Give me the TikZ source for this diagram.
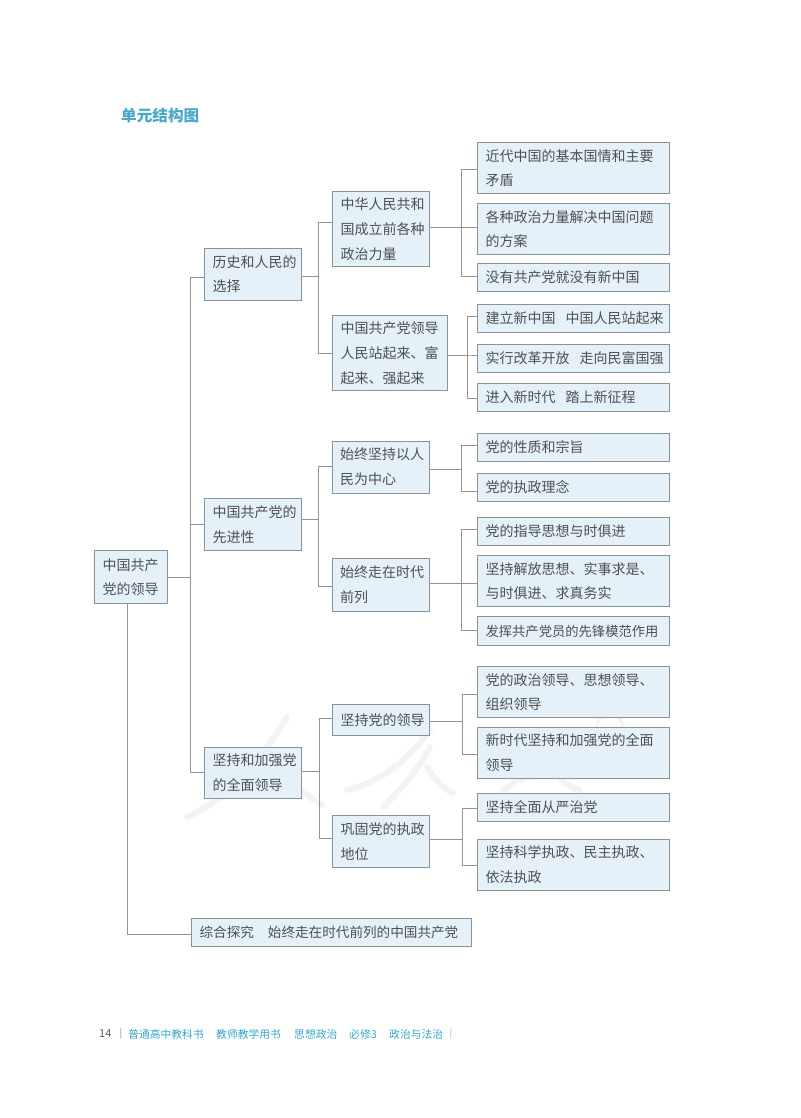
\documentclass[tikz,border=0pt]{standalone}
\usepackage{fontspec}
\setmainfont{Noto Sans CJK SC}
\definecolor{boxfill}{HTML}{E4F1F8}
\definecolor{boxline}{HTML}{8C9296}
\definecolor{linkgray}{HTML}{939393}
\definecolor{bodytext}{HTML}{505050}
\definecolor{titleblue}{HTML}{4AA8C8}
\definecolor{footblue}{HTML}{35A5C8}
\definecolor{markgray}{HTML}{F3F3F3}
\tikzset{
    box/.style={draw=boxline, line width=1.1pt, fill=boxfill, anchor=north west, inner sep=0pt, inner xsep=8pt,
        align=left, text=bodytext, font=\fontsize{14}{24.7}\selectfont},
    link/.style={draw=linkgray, line width=1pt},
    foot/.style={anchor=west, inner sep=0pt, text=footblue, font=\fontsize{10.8}{12}\selectfont},
    markstroke/.style={draw=markgray, line width=6pt, line cap=round},
}
% one box: name, left, top, right, bottom, text
\newcommand{\treebox}[6]{
    \node[box, minimum width={#4-#2}, minimum height={#5-#3}, text width={#4-#2-16}] (#1) at (#2,#3) {#6};
}
\begin{document}
\begin{tikzpicture}[x=1pt, y=-1pt]
    \useasboundingbox (0,0) rectangle (800,1118);

    \node[anchor=west, inner sep=0pt, text=titleblue, font=\fontsize{15.6}{18}\selectfont\bfseries] (title) at (121,115.5) {单元结构图};

    % faint watermark strokes
    \draw[markstroke] (287,717) .. controls (255,770) and (225,800) .. (187,817);
    \draw[markstroke] (275,760) .. controls (290,780) and (305,795) .. (322,805);
    \draw[markstroke] (430,730) .. controls (400,770) and (370,785) .. (347,790);
    \draw[markstroke] (430,747) .. controls (415,775) and (400,790) .. (383,807);
    \draw[markstroke] (427,767) .. controls (435,780) and (445,790) .. (453,793);
    \draw[markstroke] (537,747) .. controls (525,770) and (515,785) .. (503,790);
    \draw[markstroke] (570,747) .. controls (555,765) and (535,775) .. (520,780);
    \draw[markstroke] (553,770) .. controls (560,780) and (570,788) .. (580,790);
    \draw[draw=markgray, line width=3pt] (610,727) circle[radius=13];

    % root and first level
    \treebox{root}{94}{550}{167}{603}{中国共产\\党的领导}
    \treebox{hist}{204}{247.5}{301}{299.5}{历史和人民的\\选择}
    \treebox{adv}{204}{498}{301}{550}{中国共产党的\\先进性}
    \treebox{lead}{204}{746.5}{301}{798}{坚持和加强党\\的全面领导}
    \treebox{expl}{191}{918}{471}{946}{{\fontsize{13.6}{24.7}\selectfont 综合探究\hspace{14pt}始终走在时代前列的中国共产党}}

    % second level
    \treebox{forces}{332}{191}{429}{266}{中华人民共和\\国成立前各种\\政治力量}
    \treebox{rise}{332}{315}{447}{390}{中国共产党领导\\人民站起来、富\\起来、强起来}
    \treebox{people}{331.5}{440.5}{428.5}{492.5}{始终坚持以人\\民为中心}
    \treebox{times}{331.5}{558}{428.5}{610.5}{始终走在时代\\前列}
    \treebox{party}{332}{704}{429}{734.5}{坚持党的领导}
    \treebox{rule}{332}{815}{429}{867}{巩固党的执政\\地位}

    % third level
    \treebox{a}{477}{142}{669}{193}{近代中国的基本国情和主要\\矛盾}
    \treebox{b}{477}{203}{669}{254}{各种政治力量解决中国问题\\的方案}
    \treebox{c}{477}{263}{669}{291}{没有共产党就没有新中国}
    \treebox{d}{477}{304}{669}{332}{\mbox{建立新中国\hspace{10pt}中国人民站起来}}
    \treebox{e}{477}{344}{669}{372}{\mbox{实行改革开放\hspace{10pt}走向民富国强}}
    \treebox{f}{477}{383}{669}{411}{\mbox{进入新时代\hspace{10pt}踏上新征程}}
    \treebox{g}{477}{433}{669}{460.5}{党的性质和宗旨}
    \treebox{h}{477}{472.5}{669}{500.5}{党的执政理念}
    \treebox{i}{477}{517}{669}{544.5}{党的指导思想与时俱进}
    \treebox{j}{477}{555}{669}{606}{坚持解放思想、实事求是、\\与时俱进、求真务实}
    \treebox{k}{477}{616}{669}{645}{{\fontsize{13.3}{24.7}\selectfont 发挥共产党员的先锋模范作用}}
    \treebox{l}{477}{666}{669}{717}{党的政治领导、思想领导、\\组织领导}
    \treebox{m}{477}{726.5}{669}{777.5}{新时代坚持和加强党的全面\\领导}
    \treebox{n}{477}{793}{669}{820.5}{坚持全面从严治党}
    \treebox{o}{477}{838.5}{669}{889.5}{坚持科学执政、民主执政、\\依法执政}

    % connectors: from, its y, x of the spine, to, its y
    \foreach \from/\ya/\spine/\to/\yb in {root/577.7/190/hist/277, root/577.7/190/adv/524, root/577.7/190/lead/772,
        hist/276.7/318/forces/222.7, hist/276.7/318/rise/353.3,
        adv/519/318/people/466.7, adv/519/318/times/586.7,
        lead/771/319/party/718, lead/771/319/rule/838,
        forces/227.7/461/a/169.3, forces/227.7/461/b/227.7, forces/227.7/461/c/276.7,
        rise/355/467/d/316.7, rise/355/467/e/355, rise/355/467/f/398.3,
        people/469.3/461/g/445, people/469.3/461/h/491.7,
        times/583.7/461/i/529, times/583.7/461/j/583.7, times/583.7/461/k/630.7,
        party/721/462/l/694, party/721/462/m/754,
        rule/839/462/n/808, rule/839/462/o/865}
        \draw[link] (\from.east |- 0,\ya) -- (\spine,\ya) -- (\spine,\yb) -- (\to.west |- 0,\yb);
    \coordinate (rootdown) at (127,603);
    \draw[link] (rootdown) -- (127,934) -- (expl.west |- 0,934);

    % footer
    \node[anchor=west, inner sep=0pt, text=black!65, font=\fontsize{11}{12}\selectfont] (page) at (99,1034) {14};
    \node[foot] (f1) at (128,1034) {普通高中教科书};
    \node[foot] (f2) at (216,1034) {教师教学用书};
    \node[foot] (f3) at (294,1034) {思想政治};
    \node[foot] (f4) at (349,1034) {必修3};
    \node[foot] (f5) at (389,1034) {政治与法治};
    \node[anchor=center, inner sep=0pt, text=black!45, font=\fontsize{10}{12}\selectfont] (bar1) at (121,1034) {|};
    \node[anchor=center, inner sep=0pt, text=black!30, font=\fontsize{10}{12}\selectfont] (bar2) at (451,1034) {|};
\end{tikzpicture}
\end{document}
